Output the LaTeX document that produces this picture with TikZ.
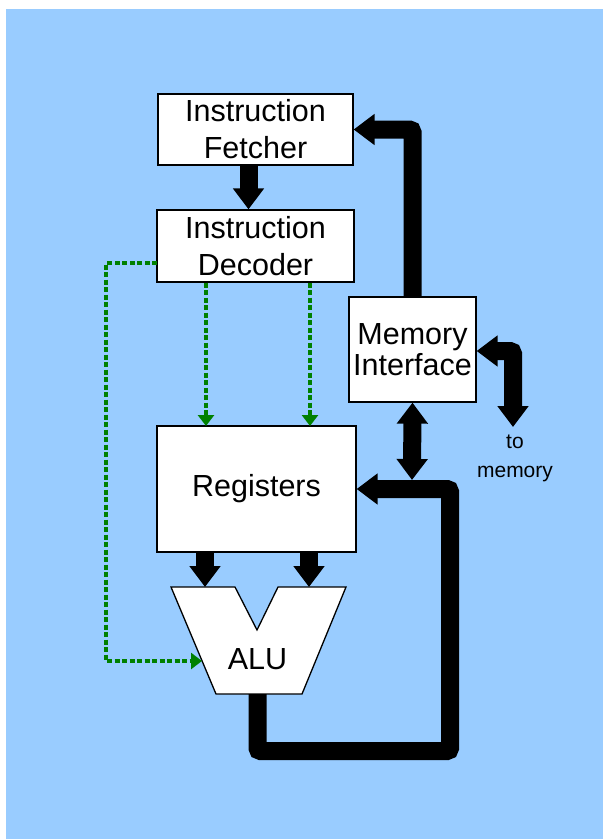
\documentclass[tikz,border=0pt]{standalone}
\usepackage{fontspec}
\setmainfont{Liberation Sans}
\usetikzlibrary{arrows.meta}
\definecolor{bgblue}{RGB}{153,204,255}
\definecolor{ctrlgreen}{RGB}{0,128,0}
\tikzset{
  unit/.style={draw=black, line width=1.3bp, fill=white, inner sep=0pt, align=center,
    font=\fontsize{30.5bp}{37bp}\selectfont},
  bigarrow/.style={line width=18bp, rounded corners=3bp, -{Triangle[length=21bp,width=30bp]}},
  bigdouble/.style={line width=18bp, rounded corners=3bp, {Triangle[length=21bp,width=30bp]}-{Triangle[length=21bp,width=30bp]}},
  ctrl/.style={draw=ctrlgreen, line width=3.6bp, dash pattern=on 5bp off 2.5bp,
    -{Triangle[length=11bp,width=16bp,fill=ctrlgreen]}},
}
\begin{document}
\begin{tikzpicture}[x=1bp,y=-1bp]
\useasboundingbox (0,0) rectangle (603,839);
\fill[white] (0,0) rectangle (603,839);
\fill[bgblue] (6,9) rectangle (603,839);

% units
\node[unit, minimum width=195bp, minimum height=71bp] (fetch) at (255.5,129.5) {Instruction\\Fetcher};
\node[unit, minimum width=197bp, minimum height=72bp] (dec) at (255.5,246) {Instruction\\Decoder};
\node[unit, minimum width=127bp, minimum height=105bp, font=\fontsize{30.5bp}{31bp}\selectfont] (mem) at (412.5,349.5) {Memory\\Interface};
\node[unit, minimum width=199bp, minimum height=126bp] (reg) at (256.5,489) {Registers};

% ALU
\draw[line width=1.3bp, fill=white] (171,587) -- (235,587) -- (257,630) -- (278,587) -- (346,587) -- (302,694) -- (216,694) -- cycle;
\node[font=\fontsize{30.5bp}{36bp}\selectfont] (alu) at (257.5,659) {ALU};
\coordinate (alua) at (205,587);
\coordinate (alub) at (309,587);
\coordinate (aluout) at (257.5,694);
\coordinate (aluin) at (202,661);

% text
\node[align=center, font=\fontsize{21bp}{29bp}\selectfont] (tomemtext) at (515,458) {to\\memory};

% coordinates
\coordinate (busjoin) at (412,480);
\coordinate (tomem) at (513,427);
\coordinate (loopbr) at (450,751);
\coordinate (rega) at (206,426);
\coordinate (regb) at (310,426);
\coordinate (decl) at (157,263);
\coordinate (gcorner) at (106,661);

% thick data paths
\draw[bigarrow] ([xshift=-7bp]fetch.south) -- ([xshift=-7bp]dec.north);
\draw[bigarrow] (mem.north) |- (fetch.east);
\draw[bigdouble] (mem.south) -- (busjoin);
\draw[bigdouble] ([yshift=-1.5bp]mem.east) -| (tomem);
\draw[bigarrow] (reg.south -| alua) -- (alua);
\draw[bigarrow] (reg.south -| alub) -- (alub);
\draw[bigarrow] (aluout) |- (loopbr) |- (reg.east);

% control paths
\draw[ctrl] (dec.south -| rega) -- (rega);
\draw[ctrl] (dec.south -| regb) -- (regb);
\draw[ctrl] (decl) -| (gcorner) -- (aluin);
\end{tikzpicture}
\end{document}
